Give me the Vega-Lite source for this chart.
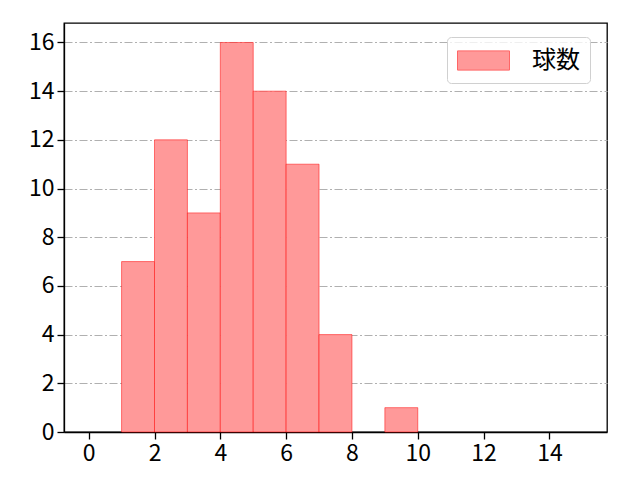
{
  "$schema": "https://vega.github.io/schema/vega-lite/v6.json",
  "autosize": {"type": "none"},
  "padding": {"left": 64, "top": 23, "right": 33, "bottom": 48},
  "width": 543,
  "height": 409,
  "background": "white",
  "config": {
    "font": "Noto Sans CJK JP",
    "view": {"stroke": "black", "strokeWidth": 1.3},
    "axis": {
      "labelFont": "Noto Sans CJK JP",
      "labelFontSize": 23,
      "labelColor": "black",
      "tickColor": "black",
      "tickSize": 7,
      "tickWidth": 1.3,
      "domainColor": "black",
      "domainWidth": 1.3,
      "labelPadding": 3,
      "title": null
    }
  },
  "data": {
    "values": [
      {"bin_start": 1, "bin_end": 2, "count": 7},
      {"bin_start": 2, "bin_end": 3, "count": 12},
      {"bin_start": 3, "bin_end": 4, "count": 9},
      {"bin_start": 4, "bin_end": 5, "count": 16},
      {"bin_start": 5, "bin_end": 6, "count": 14},
      {"bin_start": 6, "bin_end": 7, "count": 11},
      {"bin_start": 7, "bin_end": 8, "count": 4},
      {"bin_start": 9, "bin_end": 10, "count": 1}
    ]
  },
  "mark": {"type": "bar", "stroke": "#ff0000", "strokeOpacity": 0.5, "strokeWidth": 1},
  "encoding": {
    "x": {
      "field": "bin_start",
      "type": "quantitative",
      "scale": {"domain": [-0.75, 15.75], "nice": false, "zero": false},
      "axis": {"values": [0, 2, 4, 6, 8, 10, 12, 14], "grid": false}
    },
    "x2": {"field": "bin_end"},
    "y": {
      "field": "count",
      "type": "quantitative",
      "scale": {"domain": [0, 16.8], "nice": false},
      "axis": {
        "values": [0, 2, 4, 6, 8, 10, 12, 14, 16],
        "grid": true,
        "gridColor": "#b0b0b0",
        "gridWidth": 1.2,
        "gridDash": [8, 2.5, 2, 2.5]
      }
    },
    "y2": {"datum": 0},
    "color": {
      "datum": "球数",
      "scale": {"range": ["#ff9999"]},
      "legend": {
        "title": null,
        "orient": "none",
        "legendX": 383,
        "legendY": 14,
        "fillColor": "rgba(255,255,255,0.8)",
        "strokeColor": "#d0d0d0",
        "cornerRadius": 4,
        "padding": 10,
        "symbolType": "M-2,-0.74H2V0.74H-2Z",
        "symbolSize": 676,
        "symbolOffset": 13,
        "symbolStrokeColor": "#ff6666",
        "symbolStrokeWidth": 1,
        "symbolOpacity": 1,
        "labelFont": "Noto Sans CJK JP",
        "labelFontSize": 24,
        "labelColor": "black",
        "labelOffset": 35
      }
    }
  }
}
